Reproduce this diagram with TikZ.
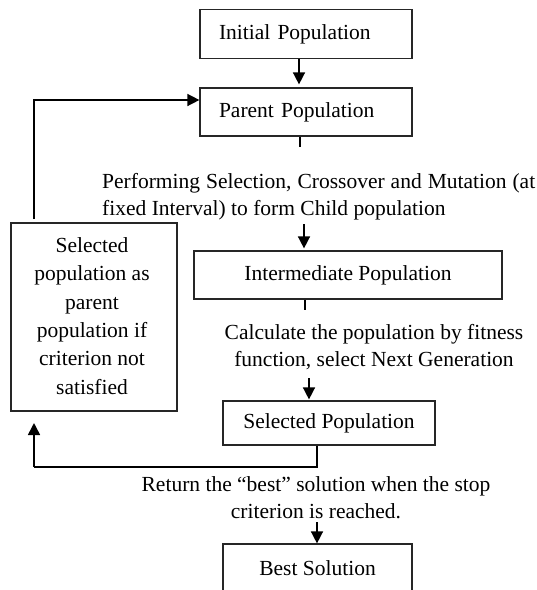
\documentclass[tikz,border=0pt]{standalone}
\usepackage{fontspec}
\setmainfont{Liberation Serif}
\usetikzlibrary{arrows.meta}
\begin{document}
\begin{tikzpicture}[x=1pt,y=-1pt,
  box/.style={draw=black!85, line width=1.2pt, rectangle, inner sep=0pt, font=\fontsize{21.5}{27}\selectfont},
  lbl/.style={inner sep=0pt, font=\fontsize{21.5}{27}\selectfont},
  conn/.style={draw=black, line width=1.5pt},
  arr/.style={conn, -{Triangle[width=12pt,length=12pt]}}]
\useasboundingbox (0,0) rectangle (537,590);
\clip (0,0) rectangle (537,590);

% boxes
\node[box, text width=174pt, inner xsep=19pt, minimum height=49pt, align=left] (init) at (306,34.3) {Initial Population};
\node[box, text width=174pt, inner xsep=19pt, minimum height=48pt, align=left] (parent) at (306,112) {Parent Population};
\node[box, minimum width=308pt, minimum height=48pt] (interm) at (348,275) {Intermediate Population};
\node[box, minimum width=212pt, minimum height=44pt] (selpop) at (329,423) {Selected Population};
\node[box, minimum width=189pt, minimum height=48pt] (best) at (317.5,568) {Best Solution};
\node[box, minimum width=166pt, minimum height=188pt] (leftbox) at (94,317) {};
\node[lbl, align=center, font=\fontsize{21.5}{28.4}\selectfont] (lefttxt) at (92,316) {Selected\\population as\\parent\\population if\\criterion not\\satisfied};

% labels
\node[lbl, anchor=west, align=left] (lab1) at (102,196.5) {\makebox[433pt][s]{Performing Selection, Crossover and Mutation (at}\\fixed Interval) to form Child population};
\node[lbl, align=center] (lab2) at (374,347.5) {Calculate the population by fitness\\function, select Next Generation};
\node[lbl, align=center] (lab3) at (316,497.5) {Return the “best” solution when the stop\\criterion is reached.};

% coordinates
\coordinate (c1) at (300,147);
\coordinate (c2) at (304,224);
\coordinate (c3) at (305,310);
\coordinate (c4) at (309,378);
\coordinate (c5) at (317,467);
\coordinate (c6) at (34,467);
\coordinate (c6t) at (34,423);
\coordinate (c7) at (317,522);
\coordinate (c8) at (34,219);

% connectors
\draw[arr, shorten >=3pt] ([xshift=-7pt]init.south) -- ([xshift=-7pt]parent.north);
\draw[arr] (c8) |- ([yshift=12pt]parent.west);
\draw[conn] (c1 |- parent.south) -- (c1);
\draw[arr, shorten >=2pt] (c2) -- (c2 |- interm.north);
\draw[conn] (c3 |- interm.south) -- (c3);
\draw[arr, shorten >=1pt] (c4) -- (c4 |- selpop.north);
\draw[conn] (c5 |- selpop.south) -- (c5) -- (c6);
\draw[arr] (c6) -- (c6t);
\draw[arr] (c7) -- (c7 |- best.north);
\end{tikzpicture}
\end{document}
